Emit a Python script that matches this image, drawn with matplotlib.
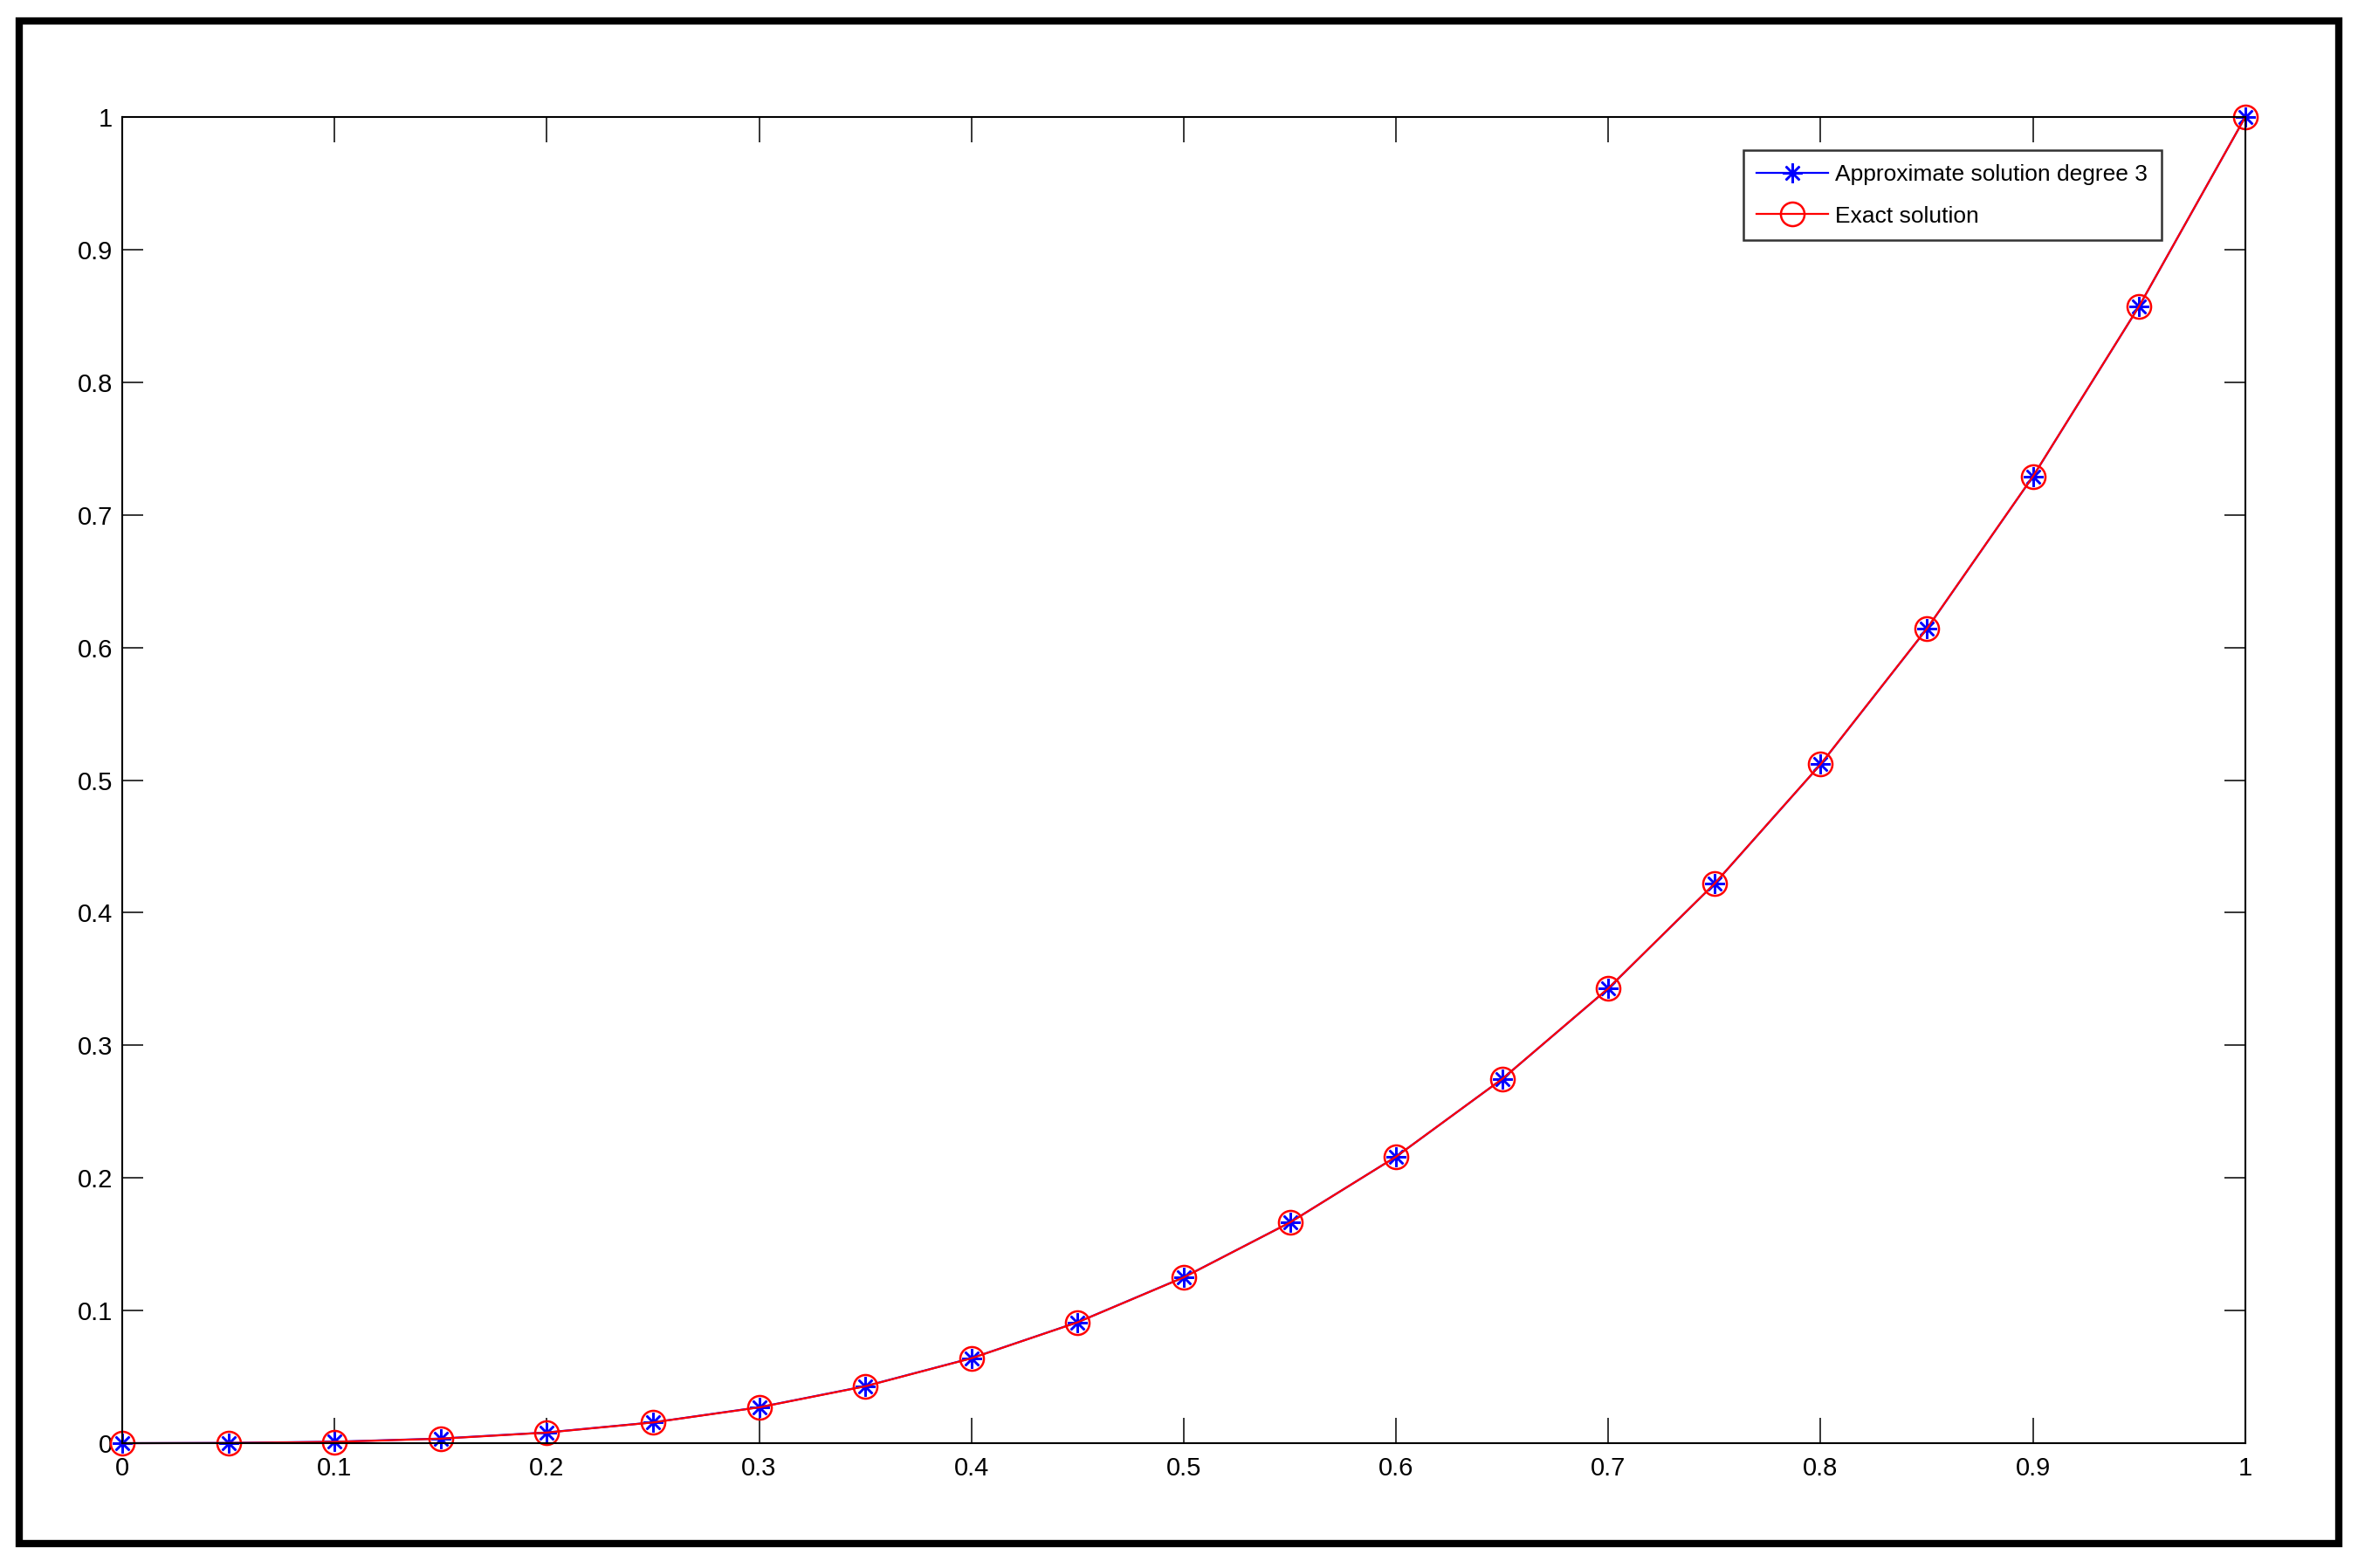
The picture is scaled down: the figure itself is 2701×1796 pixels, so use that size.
import numpy as np
import matplotlib.pyplot as plt
from matplotlib.patches import Rectangle
from matplotlib.ticker import FormatStrFormatter

plt.rcParams["font.family"] = ["Liberation Sans", "DejaVu Sans"]

# data
x_vals = [0, 0.05, 0.1, 0.15, 0.2, 0.25, 0.3, 0.35, 0.4, 0.45, 0.5,
          0.55, 0.6, 0.65, 0.7, 0.75, 0.8, 0.85, 0.9, 0.95, 1.0]
approx_vals = [0, 0.0002, 0.0011, 0.0035, 0.0081, 0.0157, 0.0271, 0.0430, 0.0641,
               0.0912, 0.1251, 0.1664, 0.2160, 0.2746, 0.3429, 0.4218, 0.5119,
               0.6140, 0.7289, 0.8573, 1.0]
exact_vals = [0, 0.000125, 0.001, 0.003375, 0.008, 0.015625, 0.027, 0.042875, 0.064,
              0.091125, 0.125, 0.166375, 0.216, 0.274625, 0.343, 0.421875, 0.512,
              0.614125, 0.729, 0.857375, 1.0]
xticks = [0, 0.1, 0.2, 0.3, 0.4, 0.5, 0.6, 0.7, 0.8, 0.9, 1]
yticks = [0, 0.1, 0.2, 0.3, 0.4, 0.5, 0.6, 0.7, 0.8, 0.9, 1]

fig = plt.figure(figsize=(27.01, 17.96), dpi=100)
ax = fig.add_axes([0.0518, 0.0796, 0.9004, 0.8458])

ax.plot(x_vals, approx_vals, color='blue', linewidth=1.6,
        marker=(8, 2, 0), markersize=16, markeredgewidth=1.8, clip_on=False,
        label='Approximate solution degree 3')
ax.plot(x_vals, exact_vals, color='red', linewidth=1.6,
        marker='o', markersize=19.5, markerfacecolor='none', markeredgewidth=1.8,
        clip_on=False, label='Exact solution')

ax.set_xlim(0, 1)
ax.set_ylim(0, 1)
ax.set_xticks(xticks)
ax.set_yticks(yticks)
ax.xaxis.set_major_formatter(FormatStrFormatter('%g'))
ax.yaxis.set_major_formatter(FormatStrFormatter('%g'))
ax.tick_params(direction='in', width=1.1, top=True, right=True, labelsize=21)
ax.tick_params(axis='x', length=21, pad=11)
ax.tick_params(axis='y', length=17, pad=8)
for s in ax.spines.values():
    s.set_linewidth(1.5)

leg = ax.legend(loc='upper right', bbox_to_anchor=(0.9605, 0.975), fontsize=19,
                frameon=True, fancybox=False, edgecolor='black',
                handlelength=3.1, borderpad=0.6, labelspacing=0.9,
                handletextpad=0.3, borderaxespad=0)
leg.get_frame().set_linewidth(1.8)

# thick frame around the whole picture
fig.patches.append(Rectangle((22 / 2701, 1 - 1768 / 1796), (2679 - 22) / 2701,
                             (1768 - 24) / 1796, transform=fig.transFigure,
                             fill=False, edgecolor='black', linewidth=6))

plt.savefig('out.png', dpi=100)
